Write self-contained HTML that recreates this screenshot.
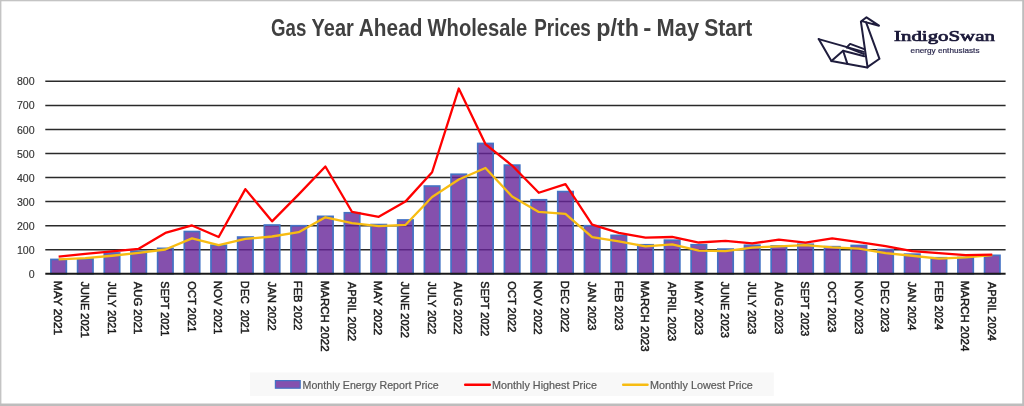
<!DOCTYPE html><html><head><meta charset="utf-8"><style>html,body{margin:0;padding:0;background:#fff;overflow:hidden}svg{display:block;filter:blur(0.5px)}</style></head><body>
<svg width="1024" height="406" viewBox="0 0 1024 406">
<rect x="0" y="0" width="1024" height="406" fill="#ffffff"/>
<rect x="0" y="0" width="1024" height="1.3" fill="#c4c4c4"/>
<rect x="0" y="0" width="1.4" height="406" fill="#c4c4c4"/>
<rect x="1022.2" y="0" width="1.8" height="406" fill="#bdbdbd"/>
<rect x="0" y="403.5" width="1024" height="2.5" fill="#bdbdbd"/>
<text x="271.11" y="35.9" font-family="Liberation Sans" font-weight="bold" font-size="23.5" fill="#404040" textLength="35.22" lengthAdjust="spacingAndGlyphs">Gas</text>
<text x="311.58" y="35.9" font-family="Liberation Sans" font-weight="bold" font-size="23.5" fill="#404040" textLength="42.18" lengthAdjust="spacingAndGlyphs">Year</text>
<text x="358.86" y="35.9" font-family="Liberation Sans" font-weight="bold" font-size="23.5" fill="#404040" textLength="63.54" lengthAdjust="spacingAndGlyphs">Ahead</text>
<text x="427.50" y="35.9" font-family="Liberation Sans" font-weight="bold" font-size="23.5" fill="#404040" textLength="99.83" lengthAdjust="spacingAndGlyphs">Wholesale</text>
<text x="534.30" y="35.9" font-family="Liberation Sans" font-weight="bold" font-size="23.5" fill="#404040" textLength="56.55" lengthAdjust="spacingAndGlyphs">Prices</text>
<text x="596.21" y="35.9" font-family="Liberation Sans" font-weight="bold" font-size="23.5" fill="#404040" textLength="42.76" lengthAdjust="spacingAndGlyphs">p/th</text>
<text x="643.17" y="35.9" font-family="Liberation Sans" font-weight="bold" font-size="23.5" fill="#404040" textLength="8.09" lengthAdjust="spacingAndGlyphs">-</text>
<text x="656.61" y="35.9" font-family="Liberation Sans" font-weight="bold" font-size="23.5" fill="#404040" textLength="42.50" lengthAdjust="spacingAndGlyphs">May</text>
<text x="704.13" y="35.9" font-family="Liberation Sans" font-weight="bold" font-size="23.5" fill="#404040" textLength="48.14" lengthAdjust="spacingAndGlyphs">Start</text>
<line x1="45.3" y1="249.74" x2="1005.6" y2="249.74" stroke="#2a2a2a" stroke-width="1.5"/>
<line x1="45.3" y1="225.68" x2="1005.6" y2="225.68" stroke="#2a2a2a" stroke-width="1.5"/>
<line x1="45.3" y1="201.62" x2="1005.6" y2="201.62" stroke="#2a2a2a" stroke-width="1.5"/>
<line x1="45.3" y1="177.56" x2="1005.6" y2="177.56" stroke="#2a2a2a" stroke-width="1.5"/>
<line x1="45.3" y1="153.50" x2="1005.6" y2="153.50" stroke="#2a2a2a" stroke-width="1.5"/>
<line x1="45.3" y1="129.44" x2="1005.6" y2="129.44" stroke="#2a2a2a" stroke-width="1.5"/>
<line x1="45.3" y1="105.38" x2="1005.6" y2="105.38" stroke="#2a2a2a" stroke-width="1.5"/>
<line x1="45.3" y1="81.32" x2="1005.6" y2="81.32" stroke="#2a2a2a" stroke-width="1.5"/>
<text x="28.70" y="277.90" font-family="Liberation Sans" font-size="11.8" fill="#333333" stroke="#333333" stroke-width="0.15" textLength="5.90" lengthAdjust="spacingAndGlyphs">0</text>
<text x="16.90" y="253.84" font-family="Liberation Sans" font-size="11.8" fill="#333333" stroke="#333333" stroke-width="0.15" textLength="17.70" lengthAdjust="spacingAndGlyphs">100</text>
<text x="16.90" y="229.78" font-family="Liberation Sans" font-size="11.8" fill="#333333" stroke="#333333" stroke-width="0.15" textLength="17.70" lengthAdjust="spacingAndGlyphs">200</text>
<text x="16.90" y="205.72" font-family="Liberation Sans" font-size="11.8" fill="#333333" stroke="#333333" stroke-width="0.15" textLength="17.70" lengthAdjust="spacingAndGlyphs">300</text>
<text x="16.90" y="181.66" font-family="Liberation Sans" font-size="11.8" fill="#333333" stroke="#333333" stroke-width="0.15" textLength="17.70" lengthAdjust="spacingAndGlyphs">400</text>
<text x="16.90" y="157.60" font-family="Liberation Sans" font-size="11.8" fill="#333333" stroke="#333333" stroke-width="0.15" textLength="17.70" lengthAdjust="spacingAndGlyphs">500</text>
<text x="16.90" y="133.54" font-family="Liberation Sans" font-size="11.8" fill="#333333" stroke="#333333" stroke-width="0.15" textLength="17.70" lengthAdjust="spacingAndGlyphs">600</text>
<text x="16.90" y="109.48" font-family="Liberation Sans" font-size="11.8" fill="#333333" stroke="#333333" stroke-width="0.15" textLength="17.70" lengthAdjust="spacingAndGlyphs">700</text>
<text x="16.90" y="85.42" font-family="Liberation Sans" font-size="11.8" fill="#333333" stroke="#333333" stroke-width="0.15" textLength="17.70" lengthAdjust="spacingAndGlyphs">800</text>
<rect x="50.94" y="259.44" width="15.40" height="14.36" fill="#662498" fill-opacity="0.8" stroke="#4472c4" stroke-width="1.7"/>
<rect x="77.61" y="258.96" width="15.40" height="14.84" fill="#662498" fill-opacity="0.8" stroke="#4472c4" stroke-width="1.7"/>
<rect x="104.29" y="252.95" width="15.40" height="20.85" fill="#662498" fill-opacity="0.8" stroke="#4472c4" stroke-width="1.7"/>
<rect x="130.96" y="251.50" width="15.40" height="22.30" fill="#662498" fill-opacity="0.8" stroke="#4472c4" stroke-width="1.7"/>
<rect x="157.64" y="248.37" width="15.40" height="25.43" fill="#662498" fill-opacity="0.8" stroke="#4472c4" stroke-width="1.7"/>
<rect x="184.31" y="231.53" width="15.40" height="42.27" fill="#662498" fill-opacity="0.8" stroke="#4472c4" stroke-width="1.7"/>
<rect x="210.99" y="245.25" width="15.40" height="28.55" fill="#662498" fill-opacity="0.8" stroke="#4472c4" stroke-width="1.7"/>
<rect x="237.66" y="237.07" width="15.40" height="36.73" fill="#662498" fill-opacity="0.8" stroke="#4472c4" stroke-width="1.7"/>
<rect x="264.34" y="225.04" width="15.40" height="48.76" fill="#662498" fill-opacity="0.8" stroke="#4472c4" stroke-width="1.7"/>
<rect x="291.01" y="225.76" width="15.40" height="48.04" fill="#662498" fill-opacity="0.8" stroke="#4472c4" stroke-width="1.7"/>
<rect x="317.69" y="216.37" width="15.40" height="57.43" fill="#662498" fill-opacity="0.8" stroke="#4472c4" stroke-width="1.7"/>
<rect x="344.36" y="212.77" width="15.40" height="61.03" fill="#662498" fill-opacity="0.8" stroke="#4472c4" stroke-width="1.7"/>
<rect x="371.04" y="224.56" width="15.40" height="49.24" fill="#662498" fill-opacity="0.8" stroke="#4472c4" stroke-width="1.7"/>
<rect x="397.71" y="219.98" width="15.40" height="53.82" fill="#662498" fill-opacity="0.8" stroke="#4472c4" stroke-width="1.7"/>
<rect x="424.39" y="186.06" width="15.40" height="87.74" fill="#662498" fill-opacity="0.8" stroke="#4472c4" stroke-width="1.7"/>
<rect x="451.06" y="174.27" width="15.40" height="99.53" fill="#662498" fill-opacity="0.8" stroke="#4472c4" stroke-width="1.7"/>
<rect x="477.74" y="143.47" width="15.40" height="130.33" fill="#662498" fill-opacity="0.8" stroke="#4472c4" stroke-width="1.7"/>
<rect x="504.41" y="165.13" width="15.40" height="108.67" fill="#662498" fill-opacity="0.8" stroke="#4472c4" stroke-width="1.7"/>
<rect x="531.09" y="199.77" width="15.40" height="74.03" fill="#662498" fill-opacity="0.8" stroke="#4472c4" stroke-width="1.7"/>
<rect x="557.76" y="191.59" width="15.40" height="82.21" fill="#662498" fill-opacity="0.8" stroke="#4472c4" stroke-width="1.7"/>
<rect x="584.44" y="225.76" width="15.40" height="48.04" fill="#662498" fill-opacity="0.8" stroke="#4472c4" stroke-width="1.7"/>
<rect x="611.11" y="235.38" width="15.40" height="38.42" fill="#662498" fill-opacity="0.8" stroke="#4472c4" stroke-width="1.7"/>
<rect x="637.79" y="244.77" width="15.40" height="29.03" fill="#662498" fill-opacity="0.8" stroke="#4472c4" stroke-width="1.7"/>
<rect x="664.46" y="240.19" width="15.40" height="33.61" fill="#662498" fill-opacity="0.8" stroke="#4472c4" stroke-width="1.7"/>
<rect x="691.14" y="244.77" width="15.40" height="29.03" fill="#662498" fill-opacity="0.8" stroke="#4472c4" stroke-width="1.7"/>
<rect x="717.81" y="249.10" width="15.40" height="24.70" fill="#662498" fill-opacity="0.8" stroke="#4472c4" stroke-width="1.7"/>
<rect x="744.49" y="245.25" width="15.40" height="28.55" fill="#662498" fill-opacity="0.8" stroke="#4472c4" stroke-width="1.7"/>
<rect x="771.16" y="245.97" width="15.40" height="27.83" fill="#662498" fill-opacity="0.8" stroke="#4472c4" stroke-width="1.7"/>
<rect x="797.84" y="244.28" width="15.40" height="29.52" fill="#662498" fill-opacity="0.8" stroke="#4472c4" stroke-width="1.7"/>
<rect x="824.51" y="246.69" width="15.40" height="27.11" fill="#662498" fill-opacity="0.8" stroke="#4472c4" stroke-width="1.7"/>
<rect x="851.19" y="245.49" width="15.40" height="28.31" fill="#662498" fill-opacity="0.8" stroke="#4472c4" stroke-width="1.7"/>
<rect x="877.86" y="249.58" width="15.40" height="24.22" fill="#662498" fill-opacity="0.8" stroke="#4472c4" stroke-width="1.7"/>
<rect x="904.54" y="254.15" width="15.40" height="19.65" fill="#662498" fill-opacity="0.8" stroke="#4472c4" stroke-width="1.7"/>
<rect x="931.21" y="257.76" width="15.40" height="16.04" fill="#662498" fill-opacity="0.8" stroke="#4472c4" stroke-width="1.7"/>
<rect x="957.89" y="257.52" width="15.40" height="16.28" fill="#662498" fill-opacity="0.8" stroke="#4472c4" stroke-width="1.7"/>
<rect x="984.56" y="255.35" width="15.40" height="18.45" fill="#662498" fill-opacity="0.8" stroke="#4472c4" stroke-width="1.7"/>
<line x1="45.3" y1="273.8" x2="1005.6" y2="273.8" stroke="#1a1a1a" stroke-width="2"/>
<polyline points="58.64,259.36 85.31,258.16 111.99,255.75 138.66,252.87 165.34,249.50 192.01,238.43 218.69,245.17 245.36,238.91 272.04,236.51 298.71,232.18 325.39,217.26 352.06,223.03 378.74,226.16 405.41,224.96 432.09,197.05 458.76,179.48 485.44,167.94 512.11,196.57 538.79,211.97 565.46,213.89 592.14,237.23 618.81,241.32 645.49,246.37 672.16,244.45 698.84,250.70 725.51,251.18 752.19,247.57 778.86,246.37 805.54,245.17 832.21,247.33 858.89,248.54 885.56,253.11 912.24,255.75 938.91,258.64 965.59,257.44 992.26,255.03" fill="none" stroke="#f7bc12" stroke-width="2.3" stroke-linejoin="round"/>
<polyline points="58.64,256.72 85.31,253.83 111.99,251.42 138.66,248.78 165.34,232.90 192.01,225.44 218.69,236.99 245.36,189.11 272.04,221.35 298.71,194.40 325.39,166.49 352.06,211.97 378.74,216.78 405.41,201.62 432.09,172.27 458.76,88.54 485.44,144.12 512.11,165.53 538.79,192.72 565.46,184.06 592.14,224.72 618.81,232.90 645.49,237.71 672.16,236.99 698.84,242.52 725.51,240.84 752.19,243.48 778.86,239.63 805.54,242.52 832.21,238.43 858.89,242.04 885.56,246.13 912.24,251.18 938.91,253.11 965.59,255.03 992.26,254.55" fill="none" stroke="#ff0000" stroke-width="2.3" stroke-linejoin="round"/>
<text transform="translate(54.34,280.77) rotate(90)" font-family="Liberation Sans" font-size="11.6" fill="#1a1a1a" stroke="#1a1a1a" stroke-width="0.5" textLength="54.42" lengthAdjust="spacingAndGlyphs">MAY 2021</text>
<text transform="translate(81.01,281.56) rotate(90)" font-family="Liberation Sans" font-size="11.6" fill="#1a1a1a" stroke="#1a1a1a" stroke-width="0.5" textLength="56.26" lengthAdjust="spacingAndGlyphs">JUNE 2021</text>
<text transform="translate(107.69,281.57) rotate(90)" font-family="Liberation Sans" font-size="11.6" fill="#1a1a1a" stroke="#1a1a1a" stroke-width="0.5" textLength="52.75" lengthAdjust="spacingAndGlyphs">JULY 2021</text>
<text transform="translate(134.36,281.80) rotate(90)" font-family="Liberation Sans" font-size="11.6" fill="#1a1a1a" stroke="#1a1a1a" stroke-width="0.5" textLength="52.38" lengthAdjust="spacingAndGlyphs">AUG 2021</text>
<text transform="translate(161.04,281.34) rotate(90)" font-family="Liberation Sans" font-size="11.6" fill="#1a1a1a" stroke="#1a1a1a" stroke-width="0.5" textLength="54.81" lengthAdjust="spacingAndGlyphs">SEPT 2021</text>
<text transform="translate(187.71,281.32) rotate(90)" font-family="Liberation Sans" font-size="11.6" fill="#1a1a1a" stroke="#1a1a1a" stroke-width="0.5" textLength="50.99" lengthAdjust="spacingAndGlyphs">OCT 2021</text>
<text transform="translate(214.39,280.81) rotate(90)" font-family="Liberation Sans" font-size="11.6" fill="#1a1a1a" stroke="#1a1a1a" stroke-width="0.5" textLength="53.58" lengthAdjust="spacingAndGlyphs">NOV 2021</text>
<text transform="translate(241.06,280.87) rotate(90)" font-family="Liberation Sans" font-size="11.6" fill="#1a1a1a" stroke="#1a1a1a" stroke-width="0.5" textLength="52.97" lengthAdjust="spacingAndGlyphs">DEC  2021</text>
<text transform="translate(267.74,281.56) rotate(90)" font-family="Liberation Sans" font-size="11.6" fill="#1a1a1a" stroke="#1a1a1a" stroke-width="0.5" textLength="49.19" lengthAdjust="spacingAndGlyphs">JAN 2022</text>
<text transform="translate(294.41,280.84) rotate(90)" font-family="Liberation Sans" font-size="11.6" fill="#1a1a1a" stroke="#1a1a1a" stroke-width="0.5" textLength="49.50" lengthAdjust="spacingAndGlyphs">FEB 2022</text>
<text transform="translate(321.09,280.81) rotate(90)" font-family="Liberation Sans" font-size="11.6" fill="#1a1a1a" stroke="#1a1a1a" stroke-width="0.5" textLength="70.71" lengthAdjust="spacingAndGlyphs">MARCH 2022</text>
<text transform="translate(347.76,281.80) rotate(90)" font-family="Liberation Sans" font-size="11.6" fill="#1a1a1a" stroke="#1a1a1a" stroke-width="0.5" textLength="59.37" lengthAdjust="spacingAndGlyphs">APRIL 2022</text>
<text transform="translate(374.44,280.77) rotate(90)" font-family="Liberation Sans" font-size="11.6" fill="#1a1a1a" stroke="#1a1a1a" stroke-width="0.5" textLength="54.42" lengthAdjust="spacingAndGlyphs">MAY 2022</text>
<text transform="translate(401.11,281.56) rotate(90)" font-family="Liberation Sans" font-size="11.6" fill="#1a1a1a" stroke="#1a1a1a" stroke-width="0.5" textLength="56.26" lengthAdjust="spacingAndGlyphs">JUNE 2022</text>
<text transform="translate(427.79,281.57) rotate(90)" font-family="Liberation Sans" font-size="11.6" fill="#1a1a1a" stroke="#1a1a1a" stroke-width="0.5" textLength="52.75" lengthAdjust="spacingAndGlyphs">JULY 2022</text>
<text transform="translate(454.46,281.80) rotate(90)" font-family="Liberation Sans" font-size="11.6" fill="#1a1a1a" stroke="#1a1a1a" stroke-width="0.5" textLength="52.62" lengthAdjust="spacingAndGlyphs">AUG 2022</text>
<text transform="translate(481.14,281.34) rotate(90)" font-family="Liberation Sans" font-size="11.6" fill="#1a1a1a" stroke="#1a1a1a" stroke-width="0.5" textLength="54.81" lengthAdjust="spacingAndGlyphs">SEPT 2022</text>
<text transform="translate(507.81,281.32) rotate(90)" font-family="Liberation Sans" font-size="11.6" fill="#1a1a1a" stroke="#1a1a1a" stroke-width="0.5" textLength="50.99" lengthAdjust="spacingAndGlyphs">OCT 2022</text>
<text transform="translate(534.49,280.81) rotate(90)" font-family="Liberation Sans" font-size="11.6" fill="#1a1a1a" stroke="#1a1a1a" stroke-width="0.5" textLength="53.83" lengthAdjust="spacingAndGlyphs">NOV 2022</text>
<text transform="translate(561.16,280.84) rotate(90)" font-family="Liberation Sans" font-size="11.6" fill="#1a1a1a" stroke="#1a1a1a" stroke-width="0.5" textLength="51.44" lengthAdjust="spacingAndGlyphs">DEC 2022</text>
<text transform="translate(587.84,281.56) rotate(90)" font-family="Liberation Sans" font-size="11.6" fill="#1a1a1a" stroke="#1a1a1a" stroke-width="0.5" textLength="48.95" lengthAdjust="spacingAndGlyphs">JAN 2023</text>
<text transform="translate(614.51,280.84) rotate(90)" font-family="Liberation Sans" font-size="11.6" fill="#1a1a1a" stroke="#1a1a1a" stroke-width="0.5" textLength="49.50" lengthAdjust="spacingAndGlyphs">FEB 2023</text>
<text transform="translate(641.19,280.81) rotate(90)" font-family="Liberation Sans" font-size="11.6" fill="#1a1a1a" stroke="#1a1a1a" stroke-width="0.5" textLength="70.71" lengthAdjust="spacingAndGlyphs">MARCH 2023</text>
<text transform="translate(667.86,281.80) rotate(90)" font-family="Liberation Sans" font-size="11.6" fill="#1a1a1a" stroke="#1a1a1a" stroke-width="0.5" textLength="59.37" lengthAdjust="spacingAndGlyphs">APRIL 2023</text>
<text transform="translate(694.54,280.77) rotate(90)" font-family="Liberation Sans" font-size="11.6" fill="#1a1a1a" stroke="#1a1a1a" stroke-width="0.5" textLength="54.42" lengthAdjust="spacingAndGlyphs">MAY 2023</text>
<text transform="translate(721.21,281.56) rotate(90)" font-family="Liberation Sans" font-size="11.6" fill="#1a1a1a" stroke="#1a1a1a" stroke-width="0.5" textLength="56.26" lengthAdjust="spacingAndGlyphs">JUNE 2023</text>
<text transform="translate(747.89,281.57) rotate(90)" font-family="Liberation Sans" font-size="11.6" fill="#1a1a1a" stroke="#1a1a1a" stroke-width="0.5" textLength="52.75" lengthAdjust="spacingAndGlyphs">JULY 2023</text>
<text transform="translate(774.56,281.80) rotate(90)" font-family="Liberation Sans" font-size="11.6" fill="#1a1a1a" stroke="#1a1a1a" stroke-width="0.5" textLength="52.38" lengthAdjust="spacingAndGlyphs">AUG 2023</text>
<text transform="translate(801.24,281.34) rotate(90)" font-family="Liberation Sans" font-size="11.6" fill="#1a1a1a" stroke="#1a1a1a" stroke-width="0.5" textLength="54.81" lengthAdjust="spacingAndGlyphs">SEPT 2023</text>
<text transform="translate(827.91,281.32) rotate(90)" font-family="Liberation Sans" font-size="11.6" fill="#1a1a1a" stroke="#1a1a1a" stroke-width="0.5" textLength="50.99" lengthAdjust="spacingAndGlyphs">OCT 2023</text>
<text transform="translate(854.59,280.81) rotate(90)" font-family="Liberation Sans" font-size="11.6" fill="#1a1a1a" stroke="#1a1a1a" stroke-width="0.5" textLength="53.58" lengthAdjust="spacingAndGlyphs">NOV 2023</text>
<text transform="translate(881.26,280.84) rotate(90)" font-family="Liberation Sans" font-size="11.6" fill="#1a1a1a" stroke="#1a1a1a" stroke-width="0.5" textLength="51.44" lengthAdjust="spacingAndGlyphs">DEC 2023</text>
<text transform="translate(907.94,281.56) rotate(90)" font-family="Liberation Sans" font-size="11.6" fill="#1a1a1a" stroke="#1a1a1a" stroke-width="0.5" textLength="48.95" lengthAdjust="spacingAndGlyphs">JAN 2024</text>
<text transform="translate(934.61,280.84) rotate(90)" font-family="Liberation Sans" font-size="11.6" fill="#1a1a1a" stroke="#1a1a1a" stroke-width="0.5" textLength="49.25" lengthAdjust="spacingAndGlyphs">FEB 2024</text>
<text transform="translate(961.29,280.81) rotate(90)" font-family="Liberation Sans" font-size="11.6" fill="#1a1a1a" stroke="#1a1a1a" stroke-width="0.5" textLength="70.46" lengthAdjust="spacingAndGlyphs">MARCH 2024</text>
<text transform="translate(987.96,281.80) rotate(90)" font-family="Liberation Sans" font-size="11.6" fill="#1a1a1a" stroke="#1a1a1a" stroke-width="0.5" textLength="59.13" lengthAdjust="spacingAndGlyphs">APRIL 2024</text>
<rect x="250" y="372.5" width="523.8" height="23.6" fill="#f8f8f8"/>
<rect x="275.4" y="380.6" width="24.8" height="7.6" fill="#8450ae" stroke="#4472c4" stroke-width="1.2"/>
<text x="302.59" y="388.6" font-family="Liberation Sans" font-size="11.2" fill="#595959" stroke="#595959" stroke-width="0.2" textLength="136.07" lengthAdjust="spacingAndGlyphs">Monthly Energy Report Price</text>
<text x="492.08" y="388.6" font-family="Liberation Sans" font-size="11.2" fill="#595959" stroke="#595959" stroke-width="0.2" textLength="104.92" lengthAdjust="spacingAndGlyphs">Monthly Highest Price</text>
<text x="650.08" y="388.6" font-family="Liberation Sans" font-size="11.2" fill="#595959" stroke="#595959" stroke-width="0.2" textLength="102.74" lengthAdjust="spacingAndGlyphs">Monthly Lowest Price</text>
<line x1="465.2" y1="384.8" x2="489.8" y2="384.8" stroke="#ff0000" stroke-width="2.5" stroke-linecap="round"/>
<line x1="623.2" y1="384.8" x2="647.5" y2="384.8" stroke="#f7bc12" stroke-width="2.5" stroke-linecap="round"/>
<g fill="none" stroke="#1f1d3d" stroke-width="2" stroke-linejoin="round" stroke-linecap="round">
<path d="M818.7,39.1 L831.4,61.1 L867.1,67.4 L879.5,58.8 L866.1,22.3"/>
<path d="M867.6,67.4 L860.9,21.6 L866.5,17.3 L879,25.7 L862.6,21.4"/>
<path d="M818.7,39.1 L863.8,51.9"/>
<path d="M846.8,47.4 L850.1,43.9 L863.6,48.9"/>
<path d="M846.8,47.4 L864,54"/>
<path d="M831.4,61.1 L843.1,50.8 L864.3,56.3"/>
<path d="M843.1,50.8 L847.4,63.9"/>
</g>
<text x="894.05" y="41.4" font-family="Liberation Serif" font-size="14.8" fill="#1c1a3a" stroke="#1c1a3a" stroke-width="0.7" textLength="100.82" lengthAdjust="spacingAndGlyphs">IndigoSwan</text>
<text x="910.62" y="53.2" font-family="Liberation Sans" font-size="7.4" fill="#2d2b50" stroke="#2d2b50" stroke-width="0.2" textLength="68.91" lengthAdjust="spacingAndGlyphs">energy enthusiasts</text>
</svg></body></html>
